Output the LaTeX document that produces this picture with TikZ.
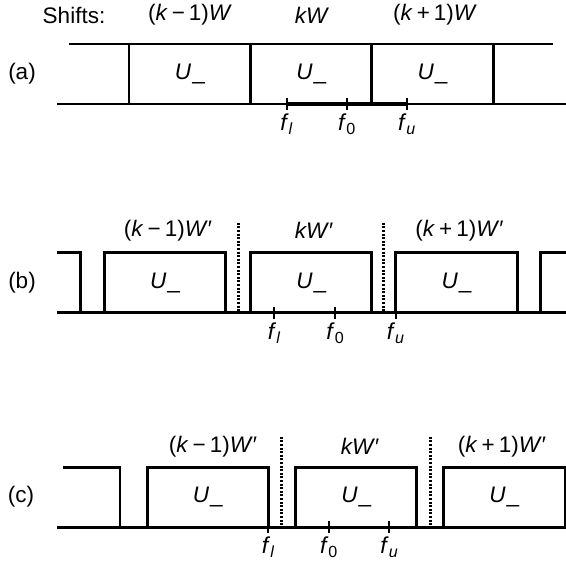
\documentclass[tikz,border=0pt]{standalone}
\usepackage{fontspec}
\setmainfont{Liberation Sans}
\begin{document}
\begin{tikzpicture}[x=1pt,y=-1pt,
  sigline/.style={line width=2.5pt},
  band/.style={line width=3.5pt},
  fmark/.style={line width=1.8pt},
  sepline/.style={line width=2.6pt, dash pattern=on 2pt off 1.6pt},
  lab/.style={font=\fontsize{22.5}{26}\selectfont, inner sep=0pt},
  flab/.style={font=\fontsize{23}{26}\selectfont, inner sep=0pt, anchor=north}]
\useasboundingbox (0,0) rectangle (566,566);

% (a)
\node[lab] (shifts) at (74,15) {Shifts:};
\node[lab] (sa1) at (190,15) {(\textit{k}\kern4pt−\kern4pt1)\textit{W}};
\node[lab] (sa2) at (312,15) {\textit{kW}};
\node[lab] (sa3) at (435,15) {(\textit{k}\kern4pt+\kern4pt1)\textit{W}};
\node[lab] (pa) at (22,74) {(a)};
\draw[sigline] (69,44) -- (552.7,44);
\draw[sigline] (57,104) -- (566,104);
\foreach \x in {129,250.7,371.7,493.3}
  \draw[sigline] (\x,44) -- (\x,104);
\foreach \x/\n in {189.9/ua1,311.2/ua2,432.5/ua3}
  \node[lab] (\n) at (\x,74) {\textit{U}\kern1pt\_};
\draw[band] (286.7,104) -- (407,104);
\draw[fmark] (286.7,98) -- (286.7,110) node[flab, below=3pt] (fla) {\textit{f}\textsubscript{\textit{l}}};
\draw[fmark] (347,98) -- (347,110) node[flab, below=3pt] (f0a) {\textit{f}\textsubscript{0}};
\draw[fmark] (407,98) -- (407,110) node[flab, below=3pt] (fua) {\textit{f}\textsubscript{\textit{u}}};

% (b)
\node[lab] (sb1) at (168,230.7) {(\textit{k}\kern4pt−\kern4pt1)\textit{W}′};
\node[lab] (sb2) at (314,230.7) {\textit{kW}′};
\node[lab] (sb3) at (459.5,230.7) {(\textit{k}\kern4pt+\kern4pt1)\textit{W}′};
\node[lab] (pb) at (22,283) {(b)};
\draw[sigline] (56.7,252.7) -| (80.7,312.7);
\draw[sigline] (56.7,312.7) -- (566,312.7);
\foreach \l/\r in {104.3/225.7,250.7/371.7,395.7/517.3}
  \draw[sigline] (\l,312.7) |- (\r,252.7) -- (\r,312.7);
\draw[sigline] (540.7,312.7) |- (566,252.7);
\foreach \x in {238.7,383.7}
  \draw[sepline] (\x,222.7) -- (\x,312.7);
\foreach \x/\n in {165/ub1,311.2/ub2,456.5/ub3}
  \node[lab] (\n) at (\x,283) {\textit{U}\kern1pt\_};
\draw[band] (274.3,312.7) -- (395.7,312.7);
\draw[fmark] (274.3,306.7) -- (274.3,318.7) node[flab, below=3pt] (flb) {\textit{f}\textsubscript{\textit{l}}};
\draw[fmark] (335.3,306.7) -- (335.3,318.7) node[flab, below=3pt] (f0b) {\textit{f}\textsubscript{0}};
\draw[fmark] (395.7,306.7) -- (395.7,318.7) node[flab, below=3pt] (fub) {\textit{f}\textsubscript{\textit{u}}};

% (c)
\node[lab] (sc1) at (213,446.7) {(\textit{k}\kern4pt−\kern4pt1)\textit{W}′};
\node[lab] (sc2) at (360,446.7) {\textit{kW}′};
\node[lab] (sc3) at (502,446.7) {(\textit{k}\kern4pt+\kern4pt1)\textit{W}′};
\node[lab] (pc) at (21,497) {(c)};
\draw[sigline] (63.3,467.3) -| (120,527.3);
\draw[sigline] (57.3,527.3) -- (566,527.3);
\foreach \l/\r in {147.3/268.3,295.7/416.7,443.3/565}
  \draw[sigline] (\l,527.3) |- (\r,467.3) -- (\r,527.3);
\foreach \x in {281.7,430.7}
  \draw[sepline] (\x,436.7) -- (\x,527.3);
\foreach \x/\n in {207.8/uc1,356.2/uc2,504.2/uc3}
  \node[lab] (\n) at (\x,497) {\textit{U}\kern1pt\_};
\draw[fmark] (268.3,521.3) -- (268.3,533.3) node[flab, below=3pt] (flc) {\textit{f}\textsubscript{\textit{l}}};
\draw[fmark] (329,521.3) -- (329,533.3) node[flab, below=3pt] (f0c) {\textit{f}\textsubscript{0}};
\draw[fmark] (389.3,521.3) -- (389.3,533.3) node[flab, below=3pt] (fuc) {\textit{f}\textsubscript{\textit{u}}};
\end{tikzpicture}
\end{document}
